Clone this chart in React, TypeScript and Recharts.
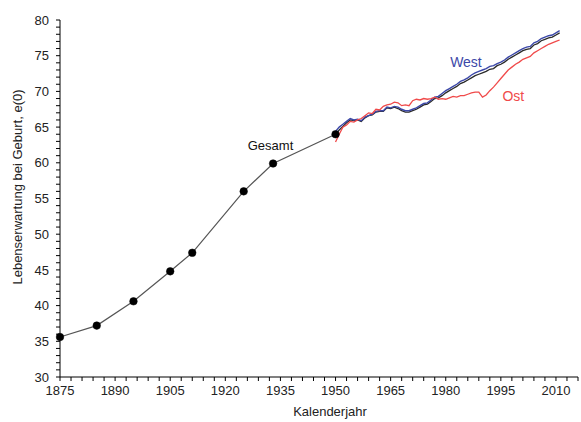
import {
  LineChart,
  Line,
  XAxis,
  YAxis,
  Label,
  ReferenceDot,
} from "recharts"

// historic life tables (Gesamt, with dots)
const histYears = [1875, 1885, 1895, 1905, 1911, 1925, 1933, 1950]
const histValues = [35.6, 37.2, 40.6, 44.8, 47.4, 56.0, 59.9, 64.0]

// annual values 1950-2011
const annualYears = Array.from({ length: 62 }, (_, i) => 1950 + i)
const westValues = [
  64.4, 65.0, 65.4, 65.8, 66.2, 66.0, 66.1, 65.9, 66.4, 66.6,
  66.8, 67.2, 67.3, 67.3, 67.8, 67.7, 67.9, 67.8, 67.5, 67.3,
  67.3, 67.5, 67.7, 68.0, 68.3, 68.4, 68.8, 69.2, 69.3, 69.7,
  70.1, 70.4, 70.7, 71.0, 71.4, 71.6, 71.9, 72.3, 72.6, 72.8,
  73.0, 73.2, 73.5, 73.6, 73.9, 74.1, 74.4, 74.8, 75.1, 75.4,
  75.7, 76.0, 76.2, 76.3, 76.8, 77.0, 77.4, 77.6, 77.8, 77.9,
  78.2, 78.5,
]
const gesamtValues = [
  64.0, 64.6, 65.1, 65.6, 66.0, 65.9, 66.0, 65.8, 66.3, 66.6,
  66.7, 67.1, 67.2, 67.2, 67.7, 67.6, 67.8, 67.6, 67.3, 67.1,
  67.1, 67.3, 67.5, 67.8, 68.1, 68.2, 68.6, 69.0, 69.1, 69.4,
  69.8, 70.1, 70.4, 70.7, 71.1, 71.3, 71.6, 71.9, 72.2, 72.4,
  72.6, 72.8, 73.1, 73.2, 73.6, 73.8, 74.1, 74.5, 74.8, 75.1,
  75.4, 75.7, 75.9, 76.0, 76.5, 76.7, 77.1, 77.3, 77.5, 77.6,
  77.9, 78.2,
]
const ostValues = [
  62.9, 64.0, 65.0, 65.3, 65.8, 65.7, 66.0, 66.2, 66.6, 67.0,
  66.9, 67.5, 67.4, 67.9, 68.1, 68.2, 68.5, 68.4, 68.0, 68.1,
  68.0, 68.7, 68.9, 68.8, 69.0, 68.9, 69.0, 69.2, 68.9, 69.0,
  68.9, 69.1, 69.3, 69.2, 69.4, 69.4, 69.6, 69.8, 69.9, 69.9,
  69.2, 69.5, 70.1, 70.6, 71.2, 71.8, 72.4, 73.0, 73.4, 73.8,
  74.1, 74.5, 74.7, 74.9, 75.4, 75.7, 76.0, 76.3, 76.6, 76.8,
  77.0, 77.2,
]

const xTicks = Array.from({ length: 48 }, (_, i) => 1875 + i * 3)
const yTicks = Array.from({ length: 51 }, (_, i) => 30 + i)

const histData = histYears.map((year, i) => ({ year, value: histValues[i] }))
const westData = annualYears.map((year, i) => ({ year, value: westValues[i] }))
const gesamtData = annualYears.map((year, i) => ({ year, value: gesamtValues[i] }))
const ostData = annualYears.map((year, i) => ({ year, value: ostValues[i] }))

const font = "'Liberation Sans', Arial, sans-serif"
const tickStyle = { fontSize: 13, fill: "#222", fontFamily: font }

export default function App() {
  return (
    <div style={{ position: "absolute", left: 0, top: 0, background: "#fff" }}>
      <LineChart width={581} height={422} margin={{ top: 20, right: 3, left: 0, bottom: 15 }}>
        <XAxis
          dataKey="year"
          type="number"
          domain={[1875, 2016]}
          ticks={xTicks}
          interval={0}
          allowDuplicatedCategory={false}
          tickFormatter={(v) => ((v - 1875) % 15 === 0 ? String(v) : "")}
          tick={tickStyle}
          tickSize={4}
          tickMargin={5}
          stroke="#000"
          height={30}
        >
          <Label
            content={() => (
              <text x={330} y={416} textAnchor="middle" fontSize={13} fill="#222" fontFamily={font}>
                Kalenderjahr
              </text>
            )}
          />
        </XAxis>
        <YAxis
          type="number"
          domain={[30, 80]}
          ticks={yTicks}
          interval={0}
          tickFormatter={(v) => (v % 5 === 0 ? String(v) : "")}
          tick={tickStyle}
          tickSize={4}
          tickMargin={7}
          stroke="#000"
          width={60}
        >
          <Label
            content={() => (
              <text
                x={22}
                y={187}
                transform="rotate(-90, 22, 187)"
                textAnchor="middle"
                fontSize={13}
                fill="#222"
                fontFamily={font}
              >
                Lebenserwartung bei Geburt, e(0)
              </text>
            )}
          />
        </YAxis>
        <Line data={gesamtData} dataKey="value" type="linear" stroke="#2a2a2a" strokeWidth={1.3} dot={false} isAnimationActive={false} />
        <Line data={westData} dataKey="value" type="linear" stroke="#3c48a8" strokeWidth={1.4} dot={false} isAnimationActive={false} />
        <Line data={ostData} dataKey="value" type="linear" stroke="#f04a4a" strokeWidth={1.3} dot={false} isAnimationActive={false} />
        <Line
          data={histData}
          dataKey="value"
          type="linear"
          stroke="#555"
          strokeWidth={1.2}
          dot={{ r: 3.8, fill: "#000", stroke: "#000", strokeWidth: 0.5 }}
          isAnimationActive={false}
        />
        <ReferenceDot x={1985.5} y={74.1} r={0} label={{ value: "West", position: "center", fill: "#3c48a8", fontSize: 14, fontFamily: font }} />
        <ReferenceDot x={1998.4} y={69.4} r={0} label={{ value: "Ost", position: "center", fill: "#f04a4a", fontSize: 14, fontFamily: font }} />
        <ReferenceDot x={1932.3} y={62.5} r={0} label={{ value: "Gesamt", position: "center", fill: "#111", fontSize: 13, fontFamily: font }} />
      </LineChart>
    </div>
  )
}
